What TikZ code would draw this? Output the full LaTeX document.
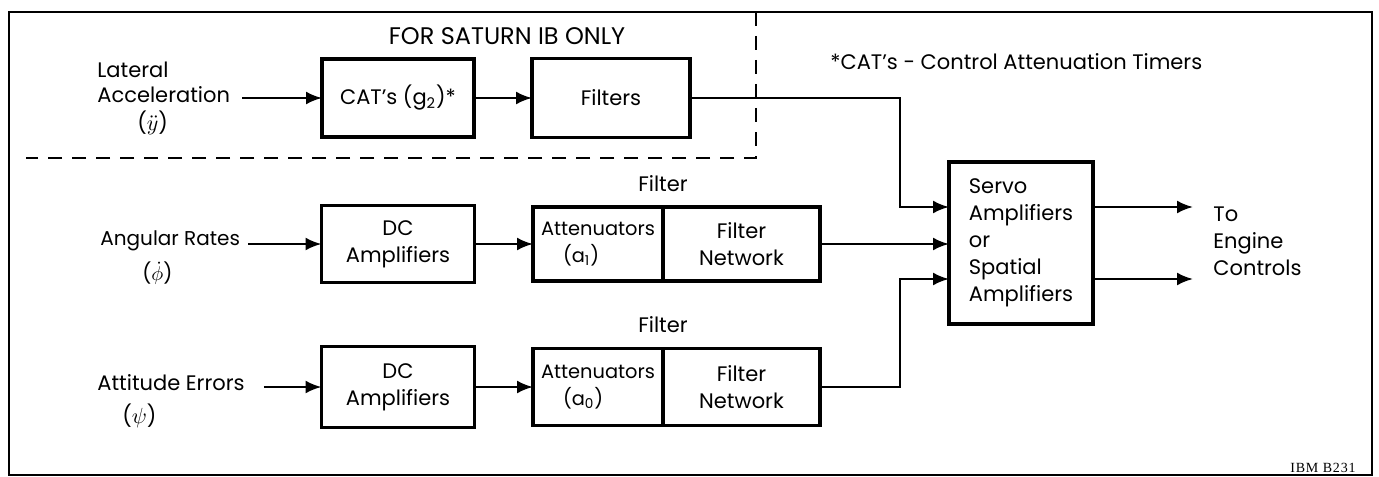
\documentclass[tikz,border=0pt]{standalone}
\usepackage{fontspec}
\setmainfont{Poppins}
\newfontfamily\tagfont[LetterSpace=6]{Liberation Serif}
\usetikzlibrary{positioning,arrows.meta}

\begin{document}
\begin{tikzpicture}[x=0.5pt,y=-0.5pt,
      blk/.style={rectangle,draw,line width=1.6pt,outer sep=0pt,inner sep=2pt,align=center,
                  font=\fontsize{10.5}{13.5}\selectfont},
      lab/.style={inner sep=0pt,align=left,font=\fontsize{10.5}{12.5}\selectfont},
      wire/.style={line width=1.2pt},
      arr/.style={wire,-{Latex[length=8pt,width=6.5pt]}}]
  \useasboundingbox (0,0) rectangle (1379,476);
  \draw[line width=1.1pt] (9,12) rectangle (1372,475);
  \draw[line width=1.1pt,dash pattern=on 7pt off 5pt] (756,12) -- (756,158) -- (26,158);

  \node[lab,font=\fontsize{12}{14}\selectfont] (sat) at (507,36) {FOR SATURN IB ONLY};
  \node[lab,anchor=west] (note) at (830,62) {*CAT's - Control Attenuation Timers};

  \node[lab,anchor=west] (lat) at (97,98) {Lateral\\Acceleration\\[1.5pt]\hspace*{20pt}($\ddot{y}$)};
  \node[blk,minimum width=76pt,minimum height=39pt] (cat) at (398,98) {CAT's (g\textsubscript{2})*};
  \node[blk,minimum width=79pt,minimum height=39.5pt] (filt) at (611,98) {Filters};
  \coordinate (bus) at (900,98);

  \node[lab,anchor=west,font=\fontsize{10}{12.5}\selectfont] (ang) at (100,258) {Angular Rates\\[5pt]\hspace*{21pt}($\dot{\phi}$)};
  \node[blk,minimum width=76.5pt,minimum height=38.5pt] (dc1) at (398,244) {DC\\Amplifiers};
  \node[blk,align=left,minimum width=65pt,minimum height=37pt,font=\fontsize{9.7}{13.5}\selectfont] (att1) at (598,244) {Attenuators\\\hspace*{11pt}(a\textsubscript{1})};
  \node[blk,minimum width=78.5pt,minimum height=37pt,right=0pt of att1] (net1) {Filter\\Network};
  \node[lab,above=7.5pt of att1.north east] (flab1) {Filter};

  \node[lab,anchor=west] (att) at (97,401) {Attitude Errors\\[4pt]\hspace*{12.5pt}($\psi$)};
  \node[blk,minimum width=76.5pt,minimum height=40.5pt] (dc0) at (398,387) {DC\\Amplifiers};
  \node[blk,align=left,minimum width=65pt,minimum height=38.5pt,font=\fontsize{9.7}{13.5}\selectfont] (att0) at (598,387) {Attenuators\\\hspace*{11pt}(a\textsubscript{0})};
  \node[blk,minimum width=78.5pt,minimum height=38.5pt,right=0pt of att0] (net0) {Filter\\Network};
  \node[lab,above=7.5pt of att0.north east] (flab0) {Filter};

  \node[blk,align=left,minimum width=72pt,minimum height=81pt] (servo) at (1021,243) {Servo\\Amplifiers\\or\\Spatial\\Amplifiers};
  \node[lab,anchor=west,font=\fontsize{10.5}{13.5}\selectfont] (eng) at (1213,241) {To\\Engine\\Controls};
  \node[lab,anchor=east,font=\tagfont\fontsize{7}{8}\selectfont] (tag) at (1356,468) {IBM B231};

  \draw[arr,shorten <=6pt] (lat.east |- cat.west) -- (cat.west);
  \draw[arr] (cat) -- (filt);
  \draw[arr] (filt.east) -- (bus) |- ([yshift=18pt]servo.west);
  \draw[arr,shorten <=4pt] (ang.east |- dc1.west) -- (dc1.west);
  \draw[arr] (dc1) -- (att1);
  \draw[arr] (net1.east) -- (servo.west |- net1.east);
  \draw[arr,shorten <=9.5pt] (att.east |- dc0.west) -- (dc0.west);
  \draw[arr] (dc0) -- (att0);
  \draw[arr] (net0.east) -- (net0.east -| bus) |- ([yshift=-18pt]servo.west);
  \draw[arr,shorten >=10pt] ([yshift=18pt]servo.east) -- ([yshift=18pt]servo.east -| eng.west);
  \draw[arr,shorten >=10pt] ([yshift=-18pt]servo.east) -- ([yshift=-18pt]servo.east -| eng.west);
\end{tikzpicture}
\end{document}
